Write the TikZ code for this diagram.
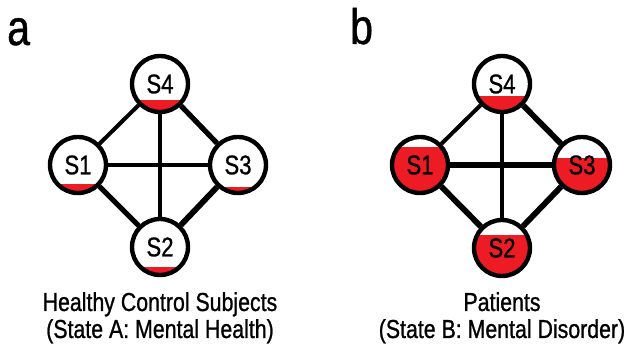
\documentclass[tikz,border=0pt]{standalone}
\usepackage{fontspec}
\setmainfont{Liberation Sans}[FakeStretch=0.82, FakeBold=0.9]
\usepackage{xcolor}
\definecolor{fillred}{RGB}{237,28,36}
\tikzset{redlevel/.style={path picture={\fill[fillred] (path picture bounding box.south west) rectangle ([yshift=#1]path picture bounding box.south east);}}}

\begin{document}
\begin{tikzpicture}[x=1pt,y=-1pt]
    \tikzstyle{region}=[circle, draw, line width=4.4pt, fill=white, minimum size=56pt, inner sep=0pt, font=\fontsize{27}{27}\selectfont]
\tikzstyle{caption}=[align=center, anchor=base, inner sep=0pt, font=\fontsize{26}{27}\selectfont]
\tikzstyle{panel}=[anchor=base west, inner sep=0pt, font=\fontsize{50}{50}\selectfont]
\useasboundingbox (0,0) rectangle (630,352);

% a
\node[panel] (pa) at (7,45) {a};
\node[region, redlevel=12pt] (s4a) at (160,84) {S4};
\node[region, redlevel=9pt] (s1a) at (78,165) {S1};
\node[region, redlevel=6pt] (s3a) at (238,165) {S3};
\node[region, redlevel=8pt] (s2a) at (160,247) {S2};
\draw[line width=4pt] (s4a) -- (s1a);
\draw[line width=5.2pt] (s4a) -- (s3a);
\draw[line width=4.6pt] (s1a) -- (s3a);
\draw[line width=3.6pt] (s4a) -- (s2a);
\draw[line width=5.2pt] (s1a) -- (s2a);
\draw[line width=5.8pt] (s3a) -- (s2a);
\node[caption] (ca) at (160,338) {Healthy Control Subjects\\(State A: Mental Health)};

% b
\node[panel] (pb) at (350,44) {b};
\node[region, redlevel=16pt] (s4b) at (502,84) {S4};
\node[region, redlevel=46pt] (s1b) at (420,165) {S1};
\node[region, redlevel=35pt] (s3b) at (582,165) {S3};
\node[region, redlevel=41pt] (s2b) at (502,248) {S2};
\draw[line width=4pt] (s4b) -- (s1b);
\draw[line width=5.8pt] (s4b) -- (s3b);
\draw[line width=6.6pt] (s1b) -- (s3b);
\draw[line width=3.6pt] (s4b) -- (s2b);
\draw[line width=5.8pt] (s1b) -- (s2b);
\draw[line width=5.8pt] (s3b) -- (s2b);
\node[caption] (cb) at (502,338) {Patients\\(State B: Mental Disorder)};
\end{tikzpicture}
\end{document}
